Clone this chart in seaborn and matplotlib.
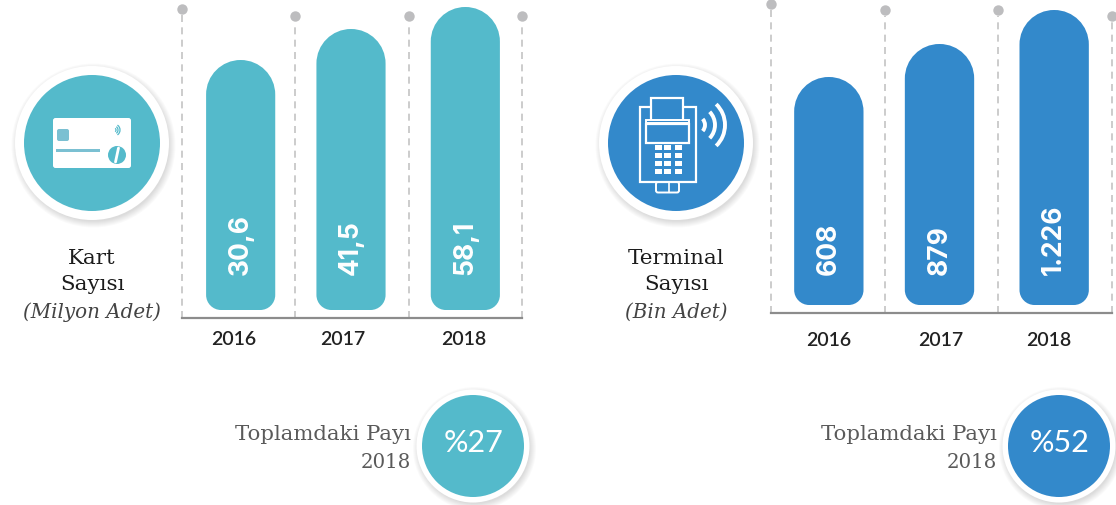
import matplotlib
matplotlib.use("Agg")
import matplotlib.pyplot as plt
import seaborn as sns
import pandas as pd
from matplotlib.patches import Circle, FancyBboxPatch, PathPatch, Rectangle, Arc
from matplotlib.path import Path
from matplotlib.transforms import ScaledTranslation

# ---- data ----
years = ["2016", "2017", "2018"]
kart_labels = ["30,6", "41,5", "58,1"]
kart_lengths = [250, 281, 303]        # drawn bar length
terminal_labels = ["608", "879", "1.226"]
terminal_lengths = [228, 261, 295]    # drawn bar length
kart_title = ["Kart", "Sayısı", "(Milyon Adet)"]
terminal_title = ["Terminal", "Sayısı", "(Bin Adet)"]
share_caption = ["Toplamdaki Payı", "2018"]
kart_share = "%27"
terminal_share = "%52"

TEAL = "#54BACB"
BLUE = "#3389CB"
W, H = 1116, 505
sns.set_theme(style="white")
plt.rcParams["font.family"] = ["DejaVu Sans"]
SERIF = "DejaVu Serif"
SANS = "Lato"
NUM = "Inter"

fig = plt.figure(figsize=(W / 100, H / 100), dpi=100, facecolor="white")


def px_axes(x0, x1, ytop, ybot, **kw):
    return fig.add_axes([x0 / W, 1 - ybot / H, (x1 - x0) / W, (ybot - ytop) / H], **kw)


bg = px_axes(0, W, 0, H)
bg.set_xlim(0, W)
bg.set_ylim(H, 0)
bg.axis("off")


def disc(cx, cy, r_in, r_out, color, z=1):
    for i in range(7):
        bg.add_patch(Circle((cx + 1.5, cy + 2.5), r_out + 5 - i, fc="#000000", alpha=0.018, ec="none", zorder=z))
    bg.add_patch(Circle((cx, cy), r_out, fc="white", ec="none", zorder=z + 1))
    bg.add_patch(Circle((cx, cy), r_in, fc=color, ec="none", zorder=z + 2))


def rounded_bar(ax, patch, color, dx_px, r_top=34.5, r_bot=15):
    x0, y0, w, h = patch.get_x(), patch.get_y(), patch.get_width(), patch.get_height()
    xscale = ax.get_window_extent().width / (ax.get_xlim()[1] - ax.get_xlim()[0])
    x0 = x0 + dx_px / xscale
    rx_t, rx_b = r_top / xscale, r_bot / xscale
    k = 0.5523
    x1, y1 = x0 + w, y0 + h
    v = [(x0 + rx_b, y0), (x1 - rx_b, y0),
         (x1 - rx_b * (1 - k), y0), (x1, y0 + r_bot * (1 - k)), (x1, y0 + r_bot),
         (x1, y1 - r_top),
         (x1, y1 - r_top * (1 - k)), (x1 - rx_t * (1 - k), y1), (x1 - rx_t, y1),
         (x0 + rx_t, y1),
         (x0 + rx_t * (1 - k), y1), (x0, y1 - r_top * (1 - k)), (x0, y1 - r_top),
         (x0, y0 + r_bot),
         (x0, y0 + r_bot * (1 - k)), (x0 + rx_b * (1 - k), y0), (x0 + rx_b, y0),
         (x0 + rx_b, y0)]
    c = [Path.MOVETO, Path.LINETO, Path.CURVE4, Path.CURVE4, Path.CURVE4, Path.LINETO,
         Path.CURVE4, Path.CURVE4, Path.CURVE4, Path.LINETO,
         Path.CURVE4, Path.CURVE4, Path.CURVE4, Path.LINETO,
         Path.CURVE4, Path.CURVE4, Path.CURVE4, Path.CLOSEPOLY]
    ax.add_patch(PathPatch(Path(v, c), fc=color, ec="none", zorder=3))
    patch.set_visible(False)
    return (x0 + x1) / 2


def panel(x_left, x_right, y_base, lengths, labels, color, dot_ys, label_y, bar_dx, tick_dx, pad):
    ax = px_axes(x_left, x_right, 0, y_base)
    ax.patch.set_alpha(0)
    df = pd.DataFrame({"year": years, "length": lengths})
    sns.barplot(data=df, x="year", y="length", color=color, width=0.61,
                bottom=8, ax=ax, saturation=1, errorbar=None)
    ax.set_xlim(-0.5, 2.5)
    ax.set_ylim(0, y_base)
    ax.set_xlabel("")
    ax.set_ylabel("")
    ax.set_yticks([])
    for s in ["top", "right", "left"]:
        ax.spines[s].set_visible(False)
    ax.spines["bottom"].set_color("#8c8c8c")
    ax.spines["bottom"].set_linewidth(1.6)
    ax.tick_params(axis="x", length=0, pad=pad)
    for t, dx in zip(ax.get_xticklabels(), tick_dx):
        t.set_fontfamily(SANS)
        t.set_fontsize(14)
        t.set_fontweight("semibold")
        t.set_color("#222222")
        t.set_transform(t.get_transform() + ScaledTranslation(dx / 100, 0, fig.dpi_scale_trans))
    for p, lab, dx in zip(list(ax.patches), labels, bar_dx):
        xc = rounded_bar(ax, p, color, dx)
        ax.text(xc, label_y, lab, rotation=90, ha="center", va="bottom",
                color="white", fontfamily=NUM, fontweight="bold", fontsize=19, zorder=4)
    # dashed guides and their dots
    for x, dy in zip([-0.5, 0.5, 1.5, 2.5], dot_ys):
        xx = min(max(x, -0.497), 2.497)
        ax.plot([xx, xx], [0, y_base - dy - 6], color="#c4c4c4", lw=1.2, ls=(0, (4.2, 3.2)), zorder=1, clip_on=False)
        ax.plot([xx], [y_base - dy], "o", color="#bdbdbf", ms=7.5, mec="none", zorder=2, clip_on=False)
    return ax


panel(182, 522, 318, kart_lengths, kart_labels, TEAL, [9, 16, 16, 16], 43, [2, -1, 0], [-5, -9, -2], 9.5)
panel(771, 1112, 313, terminal_lengths, terminal_labels, BLUE, [4, 10, 10, 16], 38, [1, -2, -1], [1, -1, -6], 13.5)

# ---- big discs ----
disc(92, 143, 68, 77, TEAL)
disc(676, 143, 68, 77, BLUE)

# card icon
bg.add_patch(FancyBboxPatch((55, 120), 74, 46, boxstyle="round,pad=2,rounding_size=2.5", fc="white", ec="none", zorder=5))
bg.add_patch(FancyBboxPatch((58, 130), 10, 10, boxstyle="round,pad=1,rounding_size=2", fc="#7BC0D2", ec="none", zorder=6))
bg.add_patch(Rectangle((56, 149), 44, 3, fc="#7BC0D2", ec="none", zorder=6))
bg.add_patch(Circle((117, 155), 9, fc=TEAL, ec="none", zorder=6))
bg.plot([118.5, 115.5], [148, 162], color="white", lw=2, zorder=7)
for r in [2, 4, 6]:
    bg.add_patch(Arc((114, 130), 2 * r, 2 * r, theta1=-55, theta2=55, color=TEAL, lw=0.9, zorder=6))

# terminal icon
bg.add_patch(Rectangle((640, 107), 56, 75, fc="none", ec="white", lw=1.6, zorder=5))
bg.add_patch(Rectangle((651, 98), 32, 24, fc=BLUE, ec="white", lw=1.6, zorder=6))
bg.add_patch(Rectangle((646, 120), 43, 3, fc=BLUE, ec="white", lw=1.4, zorder=7))
bg.add_patch(Rectangle((646, 124), 43, 19, fc=BLUE, ec="white", lw=1.6, zorder=7))
for ky0, ky1 in [(145, 150), (153, 158), (161, 166), (169, 174)]:
    for kx0, kx1 in [(655, 662), (664, 671), (675, 682)]:
        bg.add_patch(Rectangle((kx0, ky0), kx1 - kx0, ky1 - ky0, fc="white", ec="none", zorder=6))
bg.add_patch(FancyBboxPatch((656, 182), 23, 10.5, boxstyle="round,pad=0,rounding_size=2", fc="none", ec="white", lw=1.4, zorder=5))
bg.plot([669, 669], [182, 192], color="white", lw=1.2, zorder=5)
for r, half in [(9, 42), (19, 44), (29, 46)]:
    bg.add_patch(Arc((696, 125), 2 * r, 2 * r, theta1=-half, theta2=half, color="white", lw=2.8, zorder=5))

# panel titles
for cx, title in [(92, kart_title), (676, terminal_title)]:
    bg.text(cx, 258, title[0], ha="center", va="center", fontfamily=SERIF, fontsize=15.4, color="#1c1c1c")
    bg.text(cx, 284, title[1], ha="center", va="center", fontfamily=SERIF, fontsize=15.4, color="#1c1c1c")
    bg.text(cx, 312, title[2], ha="center", va="center", fontfamily=SERIF, style="italic", fontsize=14.3, color="#444444")

# share discs and captions
for cx, cy, color, txt, cap_x in [(473, 446, TEAL, kart_share, 411), (1059, 446, BLUE, terminal_share, 997)]:
    disc(cx, cy, 51, 56.5, color)
    bg.text(cx + 1, cy - 3, txt, ha="center", va="center", color="white", fontfamily=SANS, fontsize=22, zorder=6)
    bg.text(cap_x, 435, share_caption[0], ha="right", va="center", fontfamily=SERIF, fontsize=15.3, color="#5a5a5a")
    bg.text(cap_x, 462, share_caption[1], ha="right", va="center", fontfamily=SERIF, fontsize=14.2, color="#5a5a5a")

fig.savefig("out.png", dpi=100, facecolor="white")
